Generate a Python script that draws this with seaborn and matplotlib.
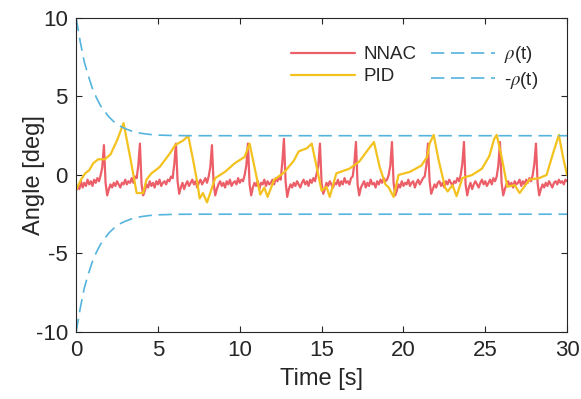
import matplotlib
matplotlib.use("Agg")
import matplotlib.pyplot as plt
import numpy as np
import pandas as pd
import seaborn as sns

# NNAC response, sampled every 0.1 s from 0 to 30 s
nnac_dt = 0.1
nnac_angle = [
    -1.0, -0.7, -0.9, -0.4, -0.8, -0.5, -0.7, -0.3, -0.6, -0.4, -0.7, -0.3, -0.5, -0.2, -0.4, 0.0, 0.5, 1.9,
    -0.5, -1.3, -0.9, -0.6, -0.8, -0.5, -0.7, -0.4, -0.6, -0.8, -0.5, -0.6, -0.3, -0.6, -0.4, -0.5, -0.2, -0.5, -0.1, -0.2, 0.6, 2.0,
    -0.6, -1.3, -1.0, -0.6, -0.8, -0.4, -0.7, -0.5, -0.8, -0.4, -0.6, -0.3, -0.7, -0.5, -0.4, -0.6, -0.3, -0.4, -0.1, -0.2, 0.7, 2.0,
    -0.4, -1.2, -0.8, -0.5, -0.9, -0.6, -0.4, -0.7, -0.5, -0.3, -0.6, -0.4, -0.8, -0.5, -0.3, -0.6, -0.4, -0.2, -0.5, -0.1, 0.5, 1.9,
    -0.5, -1.3, -0.9, -0.6, -0.4, -0.7, -0.5, -0.8, -0.4, -0.6, -0.3, -0.7, -0.5, -0.4, -0.6, -0.2, -0.5, -0.3, -0.4, 0.0, 0.6, 2.0,
    -0.6, -1.3, -0.8, -0.5, -0.7, -0.4, -0.9, -0.5, -0.6, -0.3, -0.7, -0.4, -0.6, -0.5, -0.3, -0.6, -0.2, -0.4, -0.1, -0.3, 0.8, 2.3,
    -0.4, -1.4, -0.9, -0.6, -0.8, -0.5, -0.7, -0.4, -0.6, -0.8, -0.5, -0.3, -0.6, -0.4, -0.7, -0.3, -0.5, -0.2, -0.4, 0.1, 0.6, 2.0,
    -0.5, -1.2, -0.9, -0.5, -0.7, -0.4, -0.6, -0.8, -0.5, -0.6, -0.3, -0.7, -0.4, -0.6, -0.2, -0.5, -0.4, -0.6, -0.2, -0.1, 0.7, 2.1,
    -0.6, -1.3, -0.8, -0.6, -0.4, -0.8, -0.5, -0.7, -0.3, -0.6, -0.5, -0.8, -0.4, -0.6, -0.3, -0.5, -0.2, -0.4, -0.3, 0.0, 0.6, 2.1,
    -0.5, -1.3, -1.0, -0.6, -0.8, -0.4, -0.7, -0.5, -0.6, -0.3, -0.7, -0.5, -0.4, -0.8, -0.5, -0.3, -0.6, -0.4, -0.2, -0.1, 0.6, 2.0,
    -0.4, -1.2, -0.9, -0.6, -0.8, -0.5, -0.4, -0.7, -0.5, -0.8, -0.4, -0.6, -0.3, -0.5, -0.7, -0.4, -0.5, -0.2, -0.4, 0.0, 0.7, 2.1,
    -0.6, -1.3, -0.8, -0.5, -0.9, -0.6, -0.4, -0.6, -0.8, -0.5, -0.3, -0.6, -0.4, -0.7, -0.5, -0.3, -0.6, -0.2, -0.4, -0.1, 0.6, 2.1,
    -0.5, -1.3, -0.9, -0.6, -0.4, -0.7, -0.5, -0.8, -0.4, -0.6, -0.5, -0.3, -0.7, -0.4, -0.6, -0.3, -0.5, -0.2, -0.4, 0.0, 0.7, 2.0,
    -0.5, -1.3, -0.9, -0.6, -0.8, -0.5, -0.7, -0.4, -0.6, -0.8, -0.5, -0.4, -0.6, -0.3, -0.5, -0.4, -0.6, -0.3, -0.4,
]
nnac_time = np.round(np.arange(len(nnac_angle)) * nnac_dt, 1)

# PID response, read at its turning points
pid_time = [
    0.0, 0.3, 0.55, 0.8, 1.05, 1.35, 1.75, 2.1, 2.5, 2.9, 3.3, 3.7, 4.1, 4.3, 4.6, 5.1,
    5.75, 6.05, 6.55, 6.85, 7.15, 7.4, 7.55, 7.75, 8.0, 8.5, 9.1, 9.7, 10.3, 10.6, 10.9,
    11.25, 11.5, 11.7, 12.1, 12.7, 13.3, 13.6, 14.1, 14.4, 14.7, 15.0, 15.3, 15.5, 15.9,
    16.7, 17.3, 17.9, 18.2, 18.55, 18.9, 19.1, 19.4, 19.7, 20.4, 21.1, 21.45, 21.6, 21.85,
    22.15, 22.55, 22.7, 23.0, 23.25, 23.6, 24.2, 24.8, 25.25, 25.55, 25.7, 26.0, 26.35,
    26.8, 27.1, 27.7, 28.3, 28.75, 29.15, 29.5, 29.75, 30.0,
]
pid_angle = [
    -0.95, -0.3, 0.1, 0.3, 0.75, 1.0, 1.0, 1.3, 2.2, 3.3, 1.15, -1.15, -1.15, -0.3, 0.1, 0.5,
    1.4, 1.9, 2.2, 2.5, 0.95, -0.45, -1.5, -1.15, -1.75, -0.2, 0.2, 0.75, 1.15, 2.0, 0.5,
    -1.25, -0.8, -1.4, -0.3, 0.15, 0.9, 1.5, 1.7, 2.0, 0.5, -1.0, -0.75, -1.4, 0.1,
    0.4, 0.85, 1.7, 2.1, 0.5, -0.6, -0.8, -1.4, 0.0, 0.2, 0.6, 1.15, 2.0, 2.55,
    0.95, -0.8, -1.05, -0.65, -1.35, -0.2, 0.0, 0.4, 1.2, 2.3, 2.55, 1.15, -0.75,
    -0.65, -1.15, -0.3, -0.2, 0.0, 1.4, 2.55, 1.15, 0.0,
]

# prescribed performance bound rho(t)
rho_time = [0.0, 0.25, 0.5, 0.75, 1.0, 1.25, 1.5, 2.0, 2.5, 3.0, 3.5, 4.0, 4.5, 5.0, 6.0, 7.0, 30.0]
rho_value = [10.0, 8.5, 7.2, 6.3, 5.5, 4.9, 4.4, 3.7, 3.2, 2.95, 2.75, 2.65, 2.58, 2.54, 2.51, 2.5, 2.5]

x_ticks = [0, 5, 10, 15, 20, 25, 30]
y_ticks = [-10, -5, 0, 5, 10]

NNAC_COLOR = "#EC5F69"
PID_COLOR = "#F3C21F"
RHO_COLOR = "#55B4DE"
TEXT_COLOR = "#262626"


def main() -> None:
    sns.set_theme(style="ticks")
    plt.rcParams["font.family"] = ["Liberation Sans", "DejaVu Sans"]
    plt.rcParams["mathtext.fontset"] = "stix"
    plt.rcParams["axes.unicode_minus"] = False

    nnac_df = pd.DataFrame({"time": nnac_time, "angle": nnac_angle})
    pid_df = pd.DataFrame({"time": pid_time, "angle": pid_angle})
    rho_df = pd.DataFrame({"time": rho_time, "upper": rho_value})
    rho_df["lower"] = -rho_df["upper"]

    fig = plt.figure(figsize=(5.81, 3.99), dpi=100)
    ax = fig.add_axes([0.131, 0.168, 0.845, 0.787])

    sns.lineplot(data=nnac_df, x="time", y="angle", color=NNAC_COLOR, lw=1.6,
                 label="NNAC", ax=ax, estimator=None, sort=False)
    sns.lineplot(data=pid_df, x="time", y="angle", color=PID_COLOR, lw=1.6,
                 label="PID", ax=ax, estimator=None, sort=False)
    sns.lineplot(data=rho_df, x="time", y="upper", color=RHO_COLOR, lw=1.2,
                 linestyle=(0, (8, 4)), label=r"$\rho$(t)", ax=ax, estimator=None, sort=False)
    sns.lineplot(data=rho_df, x="time", y="lower", color=RHO_COLOR, lw=1.2,
                 linestyle=(0, (8, 4)), label=r"-$\rho$(t)", ax=ax, estimator=None, sort=False)

    ax.set_xlim(0, 30)
    ax.set_ylim(-10, 10)
    ax.set_xticks(x_ticks)
    ax.set_yticks(y_ticks)
    ax.set_xlabel("Time [s]", fontsize=17, color=TEXT_COLOR)
    ax.set_ylabel("Angle [deg]", fontsize=17, color=TEXT_COLOR)
    ax.xaxis.set_label_coords(0.5, -0.115)
    ax.yaxis.set_label_coords(-0.064, 0.5)
    ax.tick_params(direction="in", length=4, width=0.8, top=True, right=True,
                   labelsize=16, colors=TEXT_COLOR, pad=6)
    for spine in ax.spines.values():
        spine.set_visible(True)
        spine.set_linewidth(0.8)
        spine.set_color(TEXT_COLOR)

    ax.legend(loc="upper right", ncol=2, frameon=False, fontsize=13.5,
              handlelength=3.4, handletextpad=0.45, columnspacing=0.8,
              labelspacing=0.25, bbox_to_anchor=(0.975, 0.97))

    fig.savefig("out.png", dpi=100)
    plt.close(fig)


if __name__ == "__main__":
    main()
